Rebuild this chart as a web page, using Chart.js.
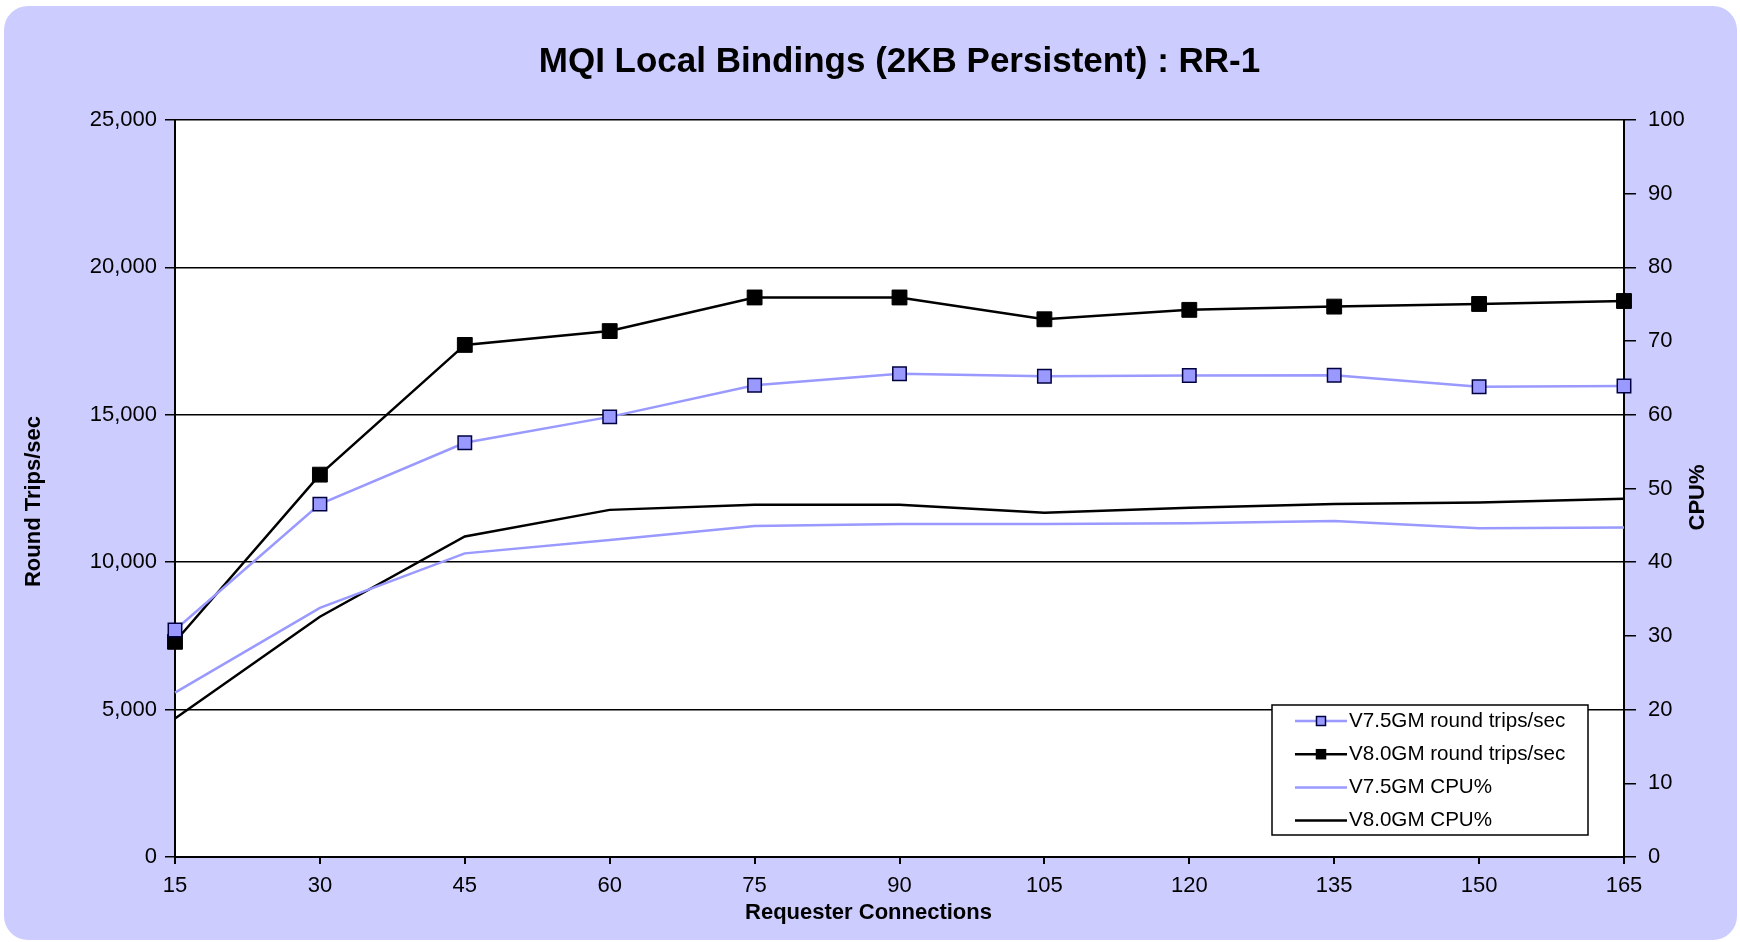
<!DOCTYPE html>
<html>
<head>
<meta charset="utf-8">
<title>MQI Local Bindings (2KB Persistent) : RR-1</title>
<script src="https://cdn.jsdelivr.net/npm/chart.js@4.4.1/dist/chart.umd.min.js"></script>
<style>
  html, body { margin: 0; padding: 0; background: #fff; }
  #wrap { position: relative; width: 1740px; height: 942px; }
  #panel { position: absolute; left: 4px; top: 6px; width: 1733px; height: 934px; border-radius: 24px; background: #ccccff; }
  #chart { position: absolute; left: 0; top: 0; }
</style>
</head>
<body>
<div id="wrap">
  <div id="panel"></div>
  <canvas id="chart" width="1740" height="942"></canvas>
</div>
<script>
// 数据
const connections = ['15', '30', '45', '60', '75', '90', '105', '120', '135', '150', '165'];
const v75RoundTrips = [7700, 11970, 14050, 14930, 16000, 16390, 16310, 16330, 16340, 15950, 15980];
const v80RoundTrips = [7300, 12970, 17370, 17840, 18980, 18980, 18240, 18560, 18670, 18760, 18860];
const v75Cpu = [22.3, 33.8, 41.2, 43.0, 44.9, 45.2, 45.2, 45.3, 45.6, 44.6, 44.7];
const v80Cpu = [18.8, 32.6, 43.5, 47.1, 47.8, 47.8, 46.7, 47.4, 47.9, 48.1, 48.6];

const FONT = '"Liberation Sans", Arial, sans-serif';
const BLUE = '#9999ff';

Chart.defaults.color = '#000';
Chart.defaults.font.family = FONT;

// 绘图区白色背景
const plotBackground = {
  id: 'plotBackground',
  beforeDraw(chart) {
    const { ctx, chartArea: a } = chart;
    ctx.save();
    ctx.fillStyle = '#fff';
    ctx.fillRect(a.left, a.top, a.right - a.left, a.bottom - a.top);
    ctx.restore();
  }
};

// 坐标轴标题（两侧都是从下往上读）
const axisTitles = {
  id: 'axisTitles',
  afterDraw(chart) {
    const { ctx, chartArea: a } = chart;
    const midY = (a.top + a.bottom) / 2;
    ctx.save();
    ctx.font = 'bold 22px ' + FONT;
    ctx.fillStyle = '#000';
    ctx.textAlign = 'center';
    ctx.textBaseline = 'middle';

    ctx.fillText('Requester Connections', (a.left + a.right) / 2 - 31, a.bottom + 56);

    ctx.save();
    ctx.translate(a.left - 141, midY + 13);
    ctx.rotate(-Math.PI / 2);
    ctx.fillText('Round Trips/sec', 0, 0);
    ctx.restore();

    ctx.save();
    ctx.translate(a.right + 74, midY + 9);
    ctx.rotate(-Math.PI / 2);
    ctx.fillText('CPU%', 0, 0);
    ctx.restore();

    ctx.restore();
  }
};

// 图例框放在绘图区右下角
const boxLegend = {
  id: 'boxLegend',
  afterDraw(chart) {
    const { ctx, chartArea: a } = chart;
    const w = 316, h = 130;
    const left = a.right - 36 - w;
    const top = a.bottom - 22 - h;
    ctx.save();
    ctx.fillStyle = '#fff';
    ctx.fillRect(left, top, w, h);
    ctx.strokeStyle = '#000';
    ctx.lineWidth = 1.5;
    ctx.strokeRect(left, top, w, h);
    ctx.font = '20.6px ' + FONT;
    ctx.textBaseline = 'middle';
    chart.data.datasets.forEach((ds, i) => {
      const y = top + 16 + i * 33.2;
      ctx.strokeStyle = ds.borderColor;
      ctx.lineWidth = ds.borderWidth;
      ctx.beginPath();
      ctx.moveTo(left + 23, y);
      ctx.lineTo(left + 75, y);
      ctx.stroke();
      if (ds.pointRadius > 0) {
        ctx.fillStyle = ds.pointBackgroundColor;
        ctx.fillRect(left + 44.5, y - 4.5, 9, 9);
        ctx.strokeStyle = ds.pointBorderColor;
        ctx.lineWidth = 1.5;
        ctx.strokeRect(left + 44.5, y - 4.5, 9, 9);
      }
      ctx.fillStyle = '#000';
      ctx.fillText(ds.label, left + 77, y);
    });
    ctx.restore();
  }
};

new Chart(document.getElementById('chart'), {
  type: 'line',
  data: {
    labels: connections,
    datasets: [
      {
        label: 'V7.5GM round trips/sec',
        data: v75RoundTrips,
        yAxisID: 'y',
        borderColor: BLUE,
        borderWidth: 2.5,
        pointStyle: 'rect',
        pointRadius: 9.5,
        pointBackgroundColor: BLUE,
        pointBorderColor: '#000040',
        pointBorderWidth: 1.5,
        tension: 0
      },
      {
        label: 'V8.0GM round trips/sec',
        data: v80RoundTrips,
        yAxisID: 'y',
        borderColor: '#000',
        borderWidth: 2.5,
        pointStyle: 'rect',
        pointRadius: 10.5,
        pointBackgroundColor: '#000',
        pointBorderColor: '#000',
        pointBorderWidth: 1,
        tension: 0
      },
      {
        label: 'V7.5GM CPU%',
        data: v75Cpu,
        yAxisID: 'y2',
        borderColor: BLUE,
        borderWidth: 2.5,
        pointRadius: 0,
        tension: 0
      },
      {
        label: 'V8.0GM CPU%',
        data: v80Cpu,
        yAxisID: 'y2',
        borderColor: '#000',
        borderWidth: 2.5,
        pointRadius: 0,
        tension: 0
      }
    ]
  },
  options: {
    responsive: false,
    animation: false,
    devicePixelRatio: 1,
    locale: 'en-US',
    layout: { padding: 0 },
    plugins: {
      legend: { display: false },
      tooltip: { enabled: false },
      title: {
        display: true,
        fullSize: false,
        text: 'MQI Local Bindings (2KB Persistent) : RR-1',
        color: '#000',
        font: { size: 35, weight: 'bold', family: FONT },
        padding: { top: 41, bottom: 37 }
      }
    },
    scales: {
      x: {
        type: 'category',
        offset: false,
        afterFit(scale) { scale.height = 85; },
        grid: { drawOnChartArea: false, drawTicks: true, tickLength: 7, color: '#000', lineWidth: 2 },
        border: { display: true, color: '#000', width: 2 },
        ticks: { font: { size: 22 }, padding: 9, maxRotation: 0, autoSkip: false }
      },
      y: {
        position: 'left',
        min: 0,
        max: 25000,
        afterFit(scale) { scale.width = 175; },
        grid: { color: '#000', lineWidth: 1.5, tickLength: 10 },
        border: { display: true, color: '#000', width: 2 },
        ticks: { stepSize: 5000, font: { size: 22 }, padding: 8 }
      },
      y2: {
        position: 'right',
        min: 0,
        max: 100,
        afterFit(scale) { scale.width = 116; },
        grid: { drawOnChartArea: false, color: '#000', lineWidth: 1.5, tickLength: 12 },
        border: { display: true, color: '#000', width: 2 },
        ticks: { stepSize: 10, font: { size: 22 }, padding: 12 }
      }
    }
  },
  plugins: [plotBackground, axisTitles, boxLegend]
});
</script>
</body>
</html>
